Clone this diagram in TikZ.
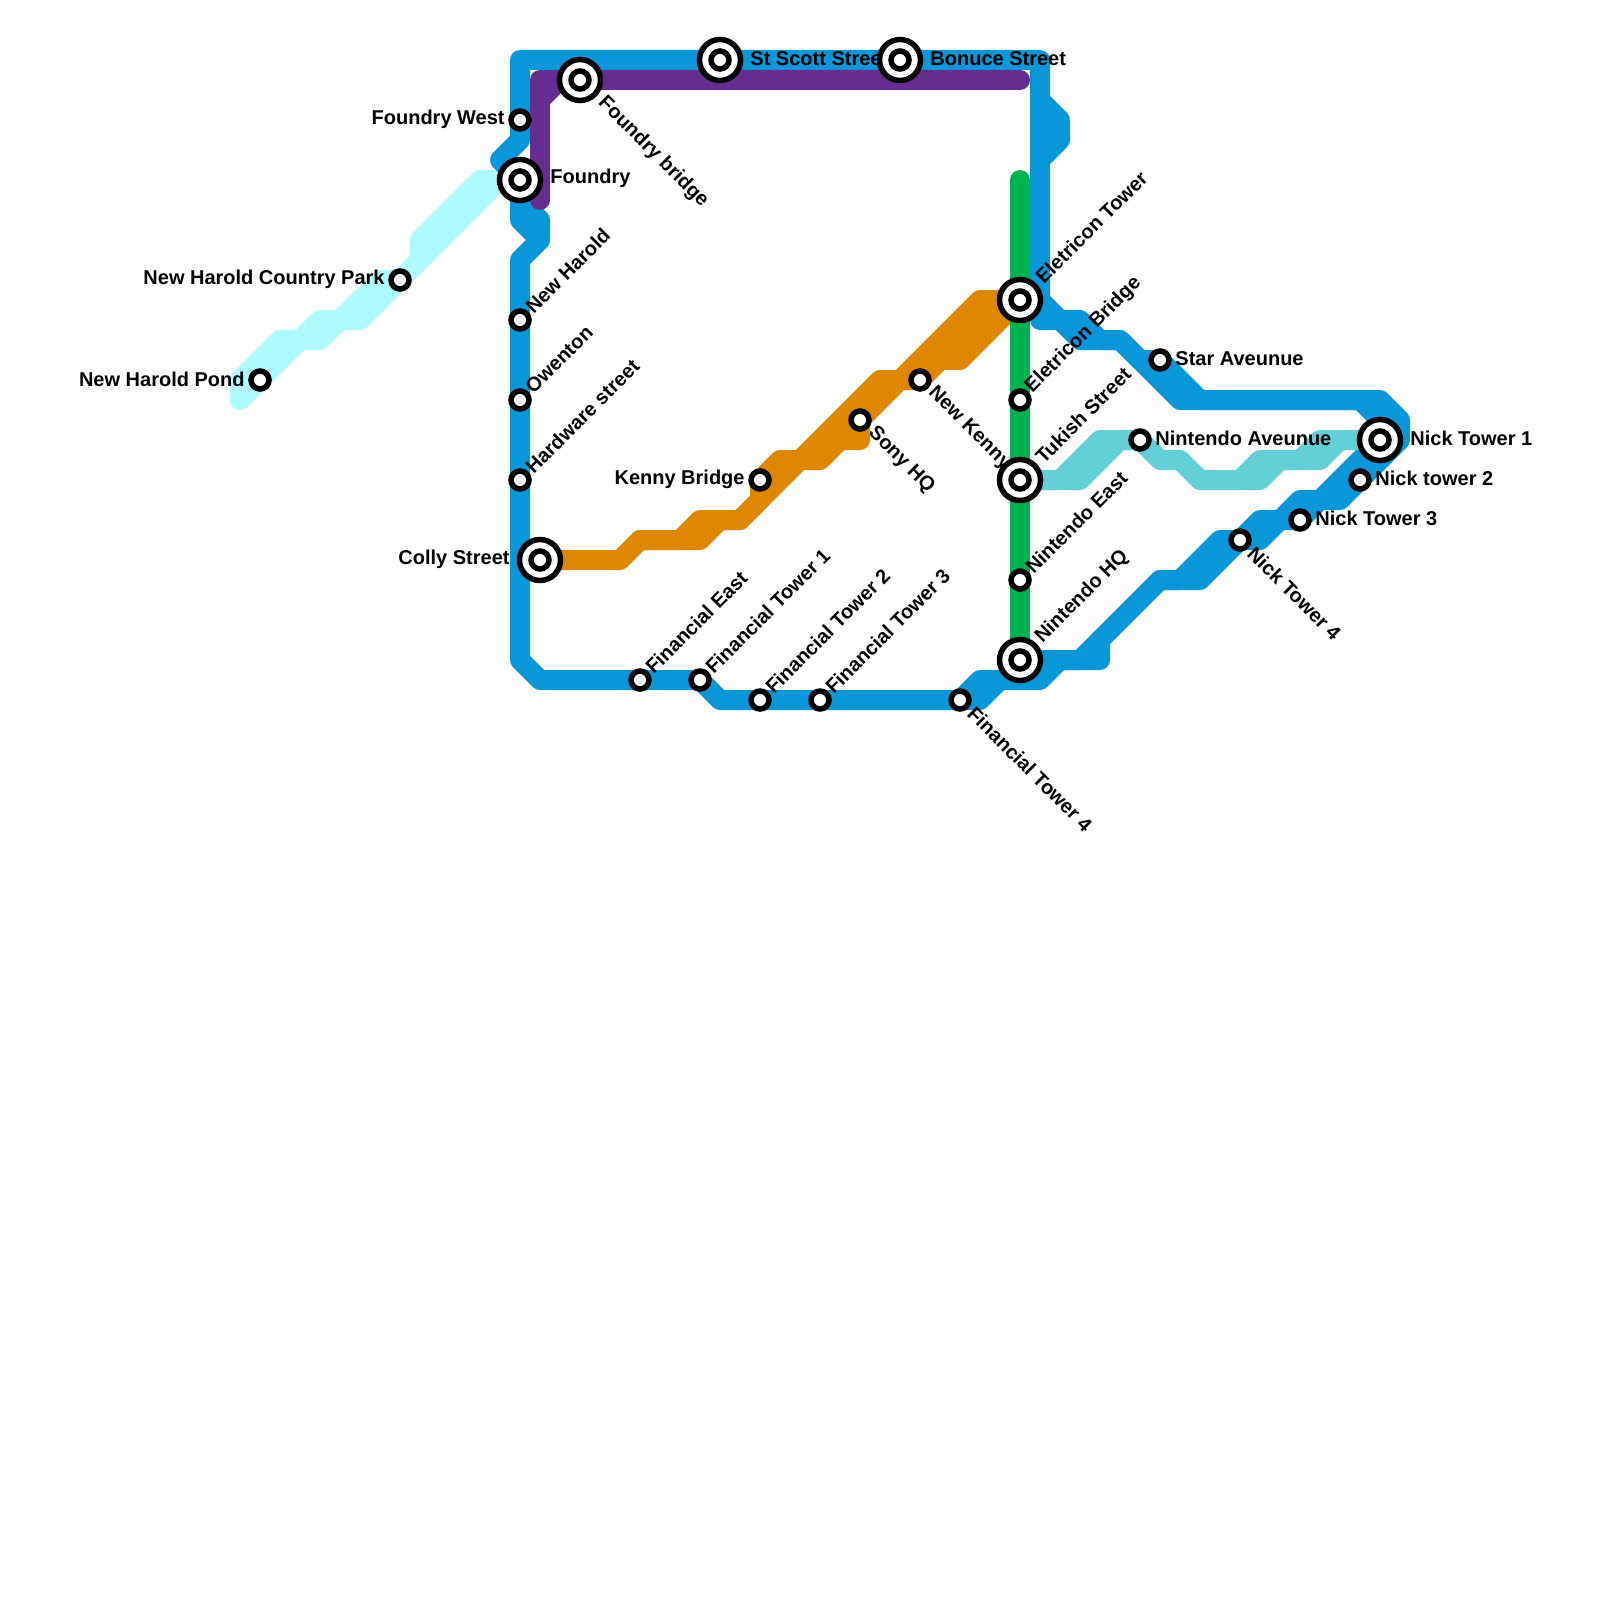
\documentclass[tikz,border=0pt]{standalone}
\usepackage{fontspec}
\setmainfont{Liberation Sans}
\begin{document}
\begin{tikzpicture}[
  x=0.5pt, y=-0.5pt,
  route/.style={line width=10pt, line cap=round, line join=round},
  bluel/.style={route, draw=lineblue},
  cyanl/.style={route, draw=linecyan},
  tealll/.style={route, draw=lineteal},
  orangel/.style={route, draw=lineorange},
  greenl/.style={route, draw=linegreen},
  purplel/.style={route, draw=linepurple},
  stop/.style={circle, draw=black, fill=white, line width=2.75pt, minimum size=9pt, inner sep=0pt},
  hub/.style={circle, draw=black, fill=white, line width=2.75pt, minimum size=20.5pt, inner sep=0pt},
  lbl/.style={font=\bfseries\fontsize{10pt}{12pt}\selectfont, inner sep=0pt, text=black},
  lblE/.style={lbl, anchor=west, shift={(15,-1.5)}},
  lblW/.style={lbl, anchor=east, shift={(-15,-1)}},
  lblNE/.style={lbl, anchor=west, shift={(8.5,-10)}, rotate=45},
  lblSE/.style={lbl, anchor=west, shift={(11,10)}, rotate=-45},
  hubE/.style={lbl, anchor=west, shift={(30,-1.5)}},
  hubW/.style={lbl, anchor=east, shift={(-30,-1)}},
  hubNE/.style={lbl, anchor=west, shift={(18.5,-20)}, rotate=45},
  hubSE/.style={lbl, anchor=west, shift={(21,20)}, rotate=-45}
]
\definecolor{lineblue}{HTML}{0A97D9}
\definecolor{linecyan}{HTML}{ADFBFF}
\definecolor{lineteal}{HTML}{62D0D6}
\definecolor{lineorange}{HTML}{DE8600}
\definecolor{linegreen}{HTML}{00B251}
\definecolor{linepurple}{HTML}{662D91}
\useasboundingbox (0,0) rectangle (1600,1600);

% Station positions
\coordinate (foundrywest) at (520,120);
\coordinate (foundry) at (520,180);
\coordinate (newharold) at (520,320);
\coordinate (owenton) at (520,400);
\coordinate (hardware) at (520,480);
\coordinate (colly) at (540,560);
\coordinate (foundrybr) at (580,80);
\coordinate (stscott) at (720,60);
\coordinate (bonuce) at (900,60);
\coordinate (parkst) at (400,280);
\coordinate (pond) at (260,380);
\coordinate (kennybr) at (760,480);
\coordinate (sony) at (860,420);
\coordinate (newkenny) at (920,380);
\coordinate (eltower) at (1020,300);
\coordinate (elbridge) at (1020,400);
\coordinate (tukish) at (1020,480);
\coordinate (ninteast) at (1020,580);
\coordinate (ninthq) at (1020,660);
\coordinate (finEast) at (640,680);
\coordinate (fin1) at (700,680);
\coordinate (fin2) at (760,700);
\coordinate (fin3) at (820,700);
\coordinate (fin4) at (960,700);
\coordinate (star) at (1160,360);
\coordinate (nintave) at (1140,440);
\coordinate (nick1) at (1380,440);
\coordinate (nick2) at (1360,480);
\coordinate (nick3) at (1300,520);
\coordinate (nick4) at (1240,540);
% Line ends that have no station
\coordinate (pondend) at (240,400);
\coordinate (greentop) at (1020,180);
\coordinate (purplebot) at (540,200);
\coordinate (purpleend) at (1020,80);
\coordinate (elbump) at (1040,320);
\coordinate (hqbump) at (1100,660);

% Light blue line
\draw[cyanl] (pond) -- (240,380) -- (280,340) -- (300,340) -- (320,320) -- (340,320) -- (380,280) -- (parkst) -- (420,260) -- (420,240) -- (480,180) -- (foundry);
\draw[cyanl] (pondend) -- (300,340) -- (320,340) -- (340,320) -- (360,320) -- (parkst) -- (500,180) -- (foundry);
\draw[cyanl] (pondend) -- (240,380);

% Blue line
\draw[bluel] (foundry) -- (500,160) -- (520,140) -- (foundrywest) -- (520,60) -- (stscott) -- (bonuce) -- (1040,60) -- (1040,300) -- (1060,320) -- (1080,320) -- (1100,340) -- (1120,340) -- (1140,360) -- (star) -- (1200,400) -- (1380,400) -- (1400,420) -- (1400,440) -- (nick2) -- (1340,500) -- (1320,500) -- (nick3) -- (1280,520) -- (1260,540) -- (nick4) -- (1200,580) -- (1160,580) -- (1100,640) -- (hqbump) -- (1060,660) -- (1040,680) -- (980,680) -- (fin4) -- (fin3) -- (fin2) -- (720,700) -- (fin1) -- (finEast) -- (540,680) -- (520,660) -- (hardware) -- (owenton) -- (newharold) -- (520,260) -- (540,240) -- (540,220) -- (520,200);
\draw[bluel] (foundry) -- (520,220) -- (540,240);
\draw[bluel] (1040,100) -- (1060,120) -- (1060,140) -- (1040,160);
\draw[bluel] (1040,300) -- (elbump) -- (1060,320) -- (1080,340) -- (1120,340) -- (1180,400) -- (1360,400) -- (1380,420) -- (nick1);
\draw[bluel] (nick1) -- (1340,480) -- (1320,500) -- (1300,500) -- (1280,520) -- (1260,520) -- (nick4) -- (1220,540) -- (1180,580) -- (1160,580);
\draw[bluel] (ninthq) -- (1080,660) -- (1100,640);
\draw[bluel] (fin4) -- (980,700) -- (1000,680);

% Teal line
\draw[tealll] (tukish) -- (1060,480) -- (1100,440) -- (nintave) -- (1160,460) -- (1180,460) -- (1200,480) -- (1240,480) -- (1260,460) -- (1300,460) -- (1320,440) -- (nick1);
\draw[tealll] (tukish) -- (1080,480) -- (1120,440) -- (nintave);
\draw[tealll] (1200,480) -- (1260,480) -- (1280,460) -- (1320,460) -- (1340,440) -- (nick1);

% Orange line
\draw[orangel] (colly) -- (620,560) -- (640,540) -- (680,540) -- (700,520) -- (740,520) -- (760,500) -- (kennybr) -- (780,460) -- (800,460) -- (880,380) -- (900,380) -- (980,300) -- (eltower);
\draw[orangel] (640,540) -- (700,540) -- (720,520) -- (740,520) -- (800,460) -- (820,460) -- (840,440) -- (860,440) -- (sony) -- (900,380) -- (newkenny) -- (940,360) -- (960,360) -- (eltower);
\draw[orangel] (820,460) -- (sony);
\draw[orangel] (newkenny) -- (1000,300);

% Green line
\draw[greenl] (greentop) -- (eltower) -- (elbridge) -- (tukish) -- (ninteast) -- (ninthq);

% Purple line
\draw[purplel] (purplebot) -- (540,100) -- (560,80) -- (purpleend);
\draw[purplel] (540,100) -- (540,80) -- (foundrybr);

% Labels
\node[lblW] (l-foundrywest) at (foundrywest) {Foundry West};
\node[hubE] (l-foundry) at (foundry) {Foundry};
\node[lblNE] (l-newharold) at (newharold) {New Harold};
\node[lblNE] (l-owenton) at (owenton) {Owenton};
\node[lblNE] (l-hardware) at (hardware) {Hardware street};
\node[hubW] (l-colly) at (colly) {Colly Street};
\node[hubSE] (l-foundrybr) at (foundrybr) {Foundry bridge};
\node[hubE] (l-stscott) at (stscott) {St Scott Street};
\node[hubE] (l-bonuce) at (bonuce) {Bonuce Street};
\node[lblW] (l-parkst) at (parkst) {New Harold Country Park};
\node[lblW] (l-pond) at (pond) {New Harold Pond};
\node[lblW] (l-kennybr) at (kennybr) {Kenny Bridge};
\node[lblSE] (l-sony) at (sony) {Sony HQ};
\node[lblSE] (l-newkenny) at (newkenny) {New Kenny};
\node[hubNE] (l-eltower) at (eltower) {Eletricon Tower};
\node[lblNE] (l-elbridge) at (elbridge) {Eletricon Bridge};
\node[hubNE] (l-tukish) at (tukish) {Tukish Street};
\node[lblNE] (l-ninteast) at (ninteast) {Nintendo East};
\node[hubNE] (l-ninthq) at (ninthq) {Nintendo HQ};
\node[lblNE] (l-finEast) at (finEast) {Financial East};
\node[lblNE] (l-fin1) at (fin1) {Financial Tower 1};
\node[lblNE] (l-fin2) at (fin2) {Financial Tower 2};
\node[lblNE] (l-fin3) at (fin3) {Financial Tower 3};
\node[lblSE] (l-fin4) at (fin4) {Financial Tower 4};
\node[lblE] (l-star) at (star) {Star Aveunue};
\node[lblE] (l-nintave) at (nintave) {Nintendo Aveunue};
\node[hubE] (l-nick1) at (nick1) {Nick Tower 1};
\node[lblE] (l-nick2) at (nick2) {Nick tower 2};
\node[lblE] (l-nick3) at (nick3) {Nick Tower 3};
\node[lblSE] (l-nick4) at (nick4) {Nick Tower 4};

% Stations
\foreach \s in {foundry,colly,foundrybr,stscott,bonuce,eltower,tukish,ninthq,nick1}
  \node[hub] (\s-ring) at (\s) {};
\foreach \s in {foundrywest,foundry,newharold,owenton,hardware,colly,foundrybr,stscott,bonuce,parkst,pond,kennybr,sony,newkenny,eltower,elbridge,tukish,ninteast,ninthq,finEast,fin1,fin2,fin3,fin4,star,nintave,nick1,nick2,nick3,nick4}
  \node[stop] (\s-dot) at (\s) {};
\end{tikzpicture}
\end{document}
